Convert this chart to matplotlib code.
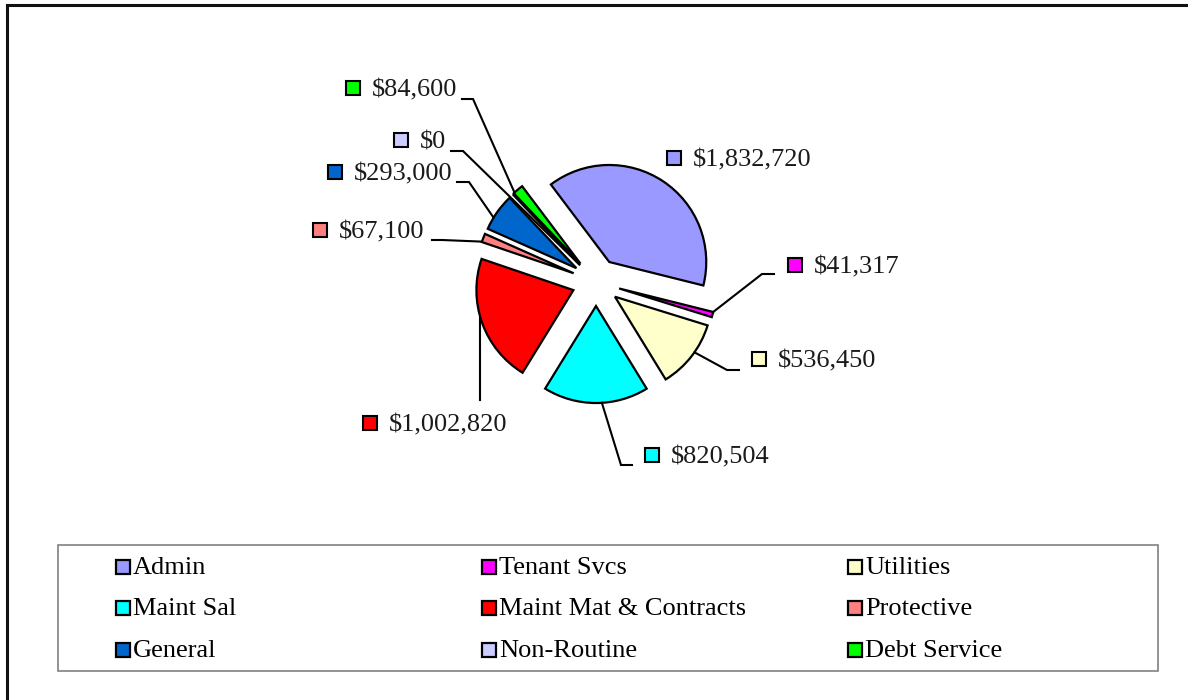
import math
import matplotlib
matplotlib.use("Agg")
import matplotlib.pyplot as plt
from matplotlib.patches import Rectangle

categories = ["Admin", "Tenant Svcs", "Utilities", "Maint Sal", "Maint Mat & Contracts",
              "Protective", "General", "Non-Routine", "Debt Service"]
values = [1832720, 41317, 536450, 820504, 1002820, 67100, 293000, 0, 84600]
value_labels = ["$1,832,720", "$41,317", "$536,450", "$820,504", "$1,002,820",
                "$67,100", "$293,000", "$0", "$84,600"]
colors = ["#9999FF", "#FF00FF", "#FFFFCC", "#00FFFF", "#FF0000",
          "#FF8080", "#0066CC", "#CCCCFF", "#00FF00"]

W, H = 1188, 700
plt.rcParams['font.family'] = ['Liberation Serif', 'DejaVu Serif']

fig = plt.figure(figsize=(W / 100, H / 100), dpi=100)
ax = fig.add_axes([0, 0, 1, 1])


def P(x, y):
    return (x, H - y)


cx, cy = P(596, 282)
R = 97
EXP = 24

wedges, _ = ax.pie(values, colors=colors, startangle=127, counterclock=False,
                   center=(cx, cy), radius=R, explode=[EXP] * len(values),
                   wedgeprops=dict(edgecolor='black', linewidth=1.6),
                   normalize=True, frame=True)
ax.set_xlim(0, W)
ax.set_ylim(0, H)
ax.set_aspect('equal')
ax.axis('off')

# label layout: marker centre, elbow segment (x next to text, x elbow, y), anchor (a along arc, radius frac)
layout = {
    0: dict(mx=674, ty=158, seg=None, anchor=None),
    1: dict(mx=795, ty=265, seg=(774, 762, 274), anchor=(1.0, 1.0)),
    2: dict(mx=759, ty=359, seg=(739, 727, 370), anchor=(0.57, 1.0)),
    3: dict(mx=652, ty=455, seg=(632, 621, 465), anchor=(0.556, 1.0)),
    4: dict(mx=370, ty=423, seg=None, anchor=(0.45, 1.0), vline=400),
    5: dict(mx=320, ty=230, seg=(432, 442, 240), anchor=(0.95, 1.0)),
    6: dict(mx=335, ty=172, seg=(457, 469, 182), anchor=(0.67, 1.0)),
    7: dict(mx=401, ty=140, seg=(451, 463, 151), anchor=(0.5, 0.0)),
    8: dict(mx=353, ty=88, seg=(462, 473, 99), anchor=(0.9, 1.0)),
}

FS = 19
MS = 14
for i, w in enumerate(wedges):
    L = layout[i]
    mx, my = P(L['mx'], L['ty'])
    ax.add_patch(Rectangle((mx - MS / 2, my - MS / 2), MS, MS, facecolor=colors[i],
                           edgecolor='black', linewidth=1.5, zorder=5))
    ax.text(mx + 19, my - 2, value_labels[i], fontsize=FS, va='center', ha='left',
            color='#1a1a1a', zorder=5)
    if L['anchor'] is not None:
        a, rf = L['anchor']
        ang = math.radians(w.theta1 + a * (w.theta2 - w.theta1))
        wx, wy = w.center
        axp = wx + rf * w.r * math.cos(ang)
        ayp = wy + rf * w.r * math.sin(ang)
        if L['seg'] is not None:
            x1, x2, yl = L['seg']
            p1 = P(x1, yl)
            p2 = P(x2, yl)
            ax.plot([p1[0], p2[0], axp], [p1[1], p2[1], ayp], color='black',
                    linewidth=1.5, solid_joinstyle='miter', zorder=4)
        elif 'vline' in L:
            yb = H - L['vline']
            ax.plot([axp, axp], [yb, ayp], color='black', linewidth=1.5, zorder=4)

# legend box
lx0, ly0 = P(58, 671)
ax.add_patch(Rectangle((lx0, ly0), 1158 - 58, 671 - 545, facecolor='white',
                       edgecolor='#808080', linewidth=1.2, zorder=3))
col_x = [123, 489, 855]
row_y = [567, 608, 650]
LFS = 19
LMS = 14
for i, name in enumerate(categories):
    r, c = divmod(i, 3)
    mx, my = P(col_x[c], row_y[r])
    ax.add_patch(Rectangle((mx - LMS / 2, my - LMS / 2), LMS, LMS, facecolor=colors[i],
                           edgecolor='black', linewidth=1.6, zorder=5))
    ax.text(mx + 10, my - 1, name, fontsize=LFS, va='center', ha='left', color='black', zorder=5)

# figure border (top and left visible)
bx, by = P(7, 5)
ax.plot([bx, W + 5], [by, by], color='#111111', linewidth=2.2, zorder=6, clip_on=False)
ax.plot([bx, bx], [by, -5], color='#111111', linewidth=2.2, zorder=6, clip_on=False)

fig.savefig("out.png", dpi=100)
